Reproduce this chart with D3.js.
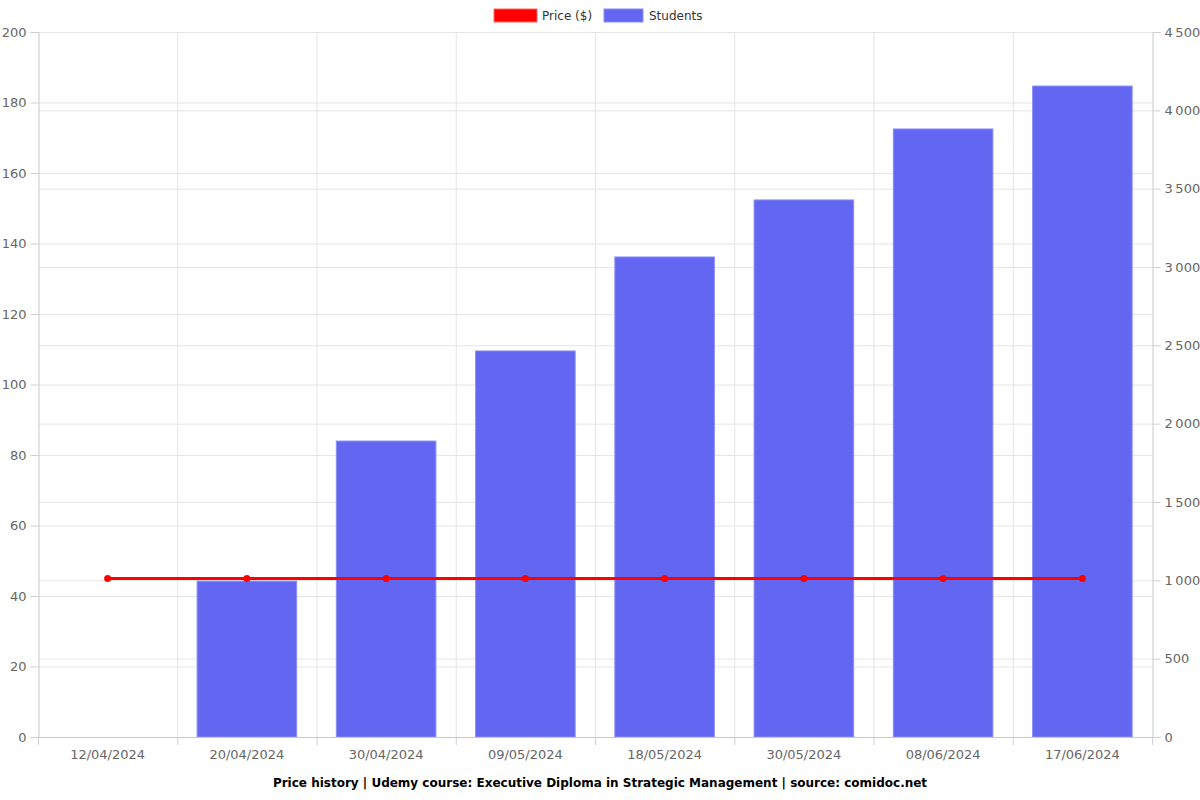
<!DOCTYPE html>
<html>
<head>
<meta charset="utf-8">
<script src="https://cdn.jsdelivr.net/npm/d3@7"></script>
<style>
  body { margin: 0; background: #fff; }
  text { font-family: "DejaVu Sans", sans-serif; }
</style>
</head>
<body>
<svg id="chart" width="1200" height="800"></svg>
<script>
// data
const dates = ["12/04/2024", "20/04/2024", "30/04/2024", "09/05/2024", "18/05/2024", "30/05/2024", "08/06/2024", "17/06/2024"];
const price = [44.99, 44.99, 44.99, 44.99, 44.99, 44.99, 44.99, 44.99];
const students = [0, 995, 1889, 2464, 3064, 3428, 3881, 4155];
const priceTicks = [0, 20, 40, 60, 80, 100, 120, 140, 160, 180, 200];
const studentTicks = [0, 500, 1000, 1500, 2000, 2500, 3000, 3500, 4000, 4500];

const plotL = 38, plotR = 1152, plotT = 32, plotB = 737;
const svg = d3.select("#chart");

const x = d3.scaleBand().domain(dates).range([plotL, plotR]);
const yL = d3.scaleLinear().domain([0, 200]).range([plotB, plotT]);
const yR = d3.scaleLinear().domain([0, 4500]).range([plotB, plotT]);

const fmt = d3.format(",");
const spaceFmt = d => fmt(d).replace(/,/g, "\u2009");

// grid lines
const grid = svg.append("g");
grid.selectAll(".gl").data(priceTicks).enter().append("line")
  .attr("x1", plotL).attr("x2", plotR)
  .attr("y1", d => yL(d) + 0.5).attr("y2", d => yL(d) + 0.5)
  .attr("stroke", "#e5e5e5");
grid.selectAll(".gr").data(studentTicks).enter().append("line")
  .attr("x1", plotL).attr("x2", plotR)
  .attr("y1", d => yR(d) + 0.5).attr("y2", d => yR(d) + 0.5)
  .attr("stroke", "#e5e5e5");
grid.selectAll(".gv").data(dates.slice(1)).enter().append("line")
  .attr("x1", d => x(d) + 0.5).attr("x2", d => x(d) + 0.5)
  .attr("y1", plotT).attr("y2", plotB)
  .attr("stroke", "#e5e5e5");

// bars
const barW = x.bandwidth() * 0.715;
svg.selectAll("rect.bar").data(students).enter().append("rect")
  .attr("class", "bar")
  .attr("x", (d, i) => x(dates[i]) + (x.bandwidth() - barW) / 2)
  .attr("y", d => yR(d))
  .attr("width", barW)
  .attr("height", d => plotB - yR(d))
  .attr("fill", "#6366f1")
  .attr("stroke", d => d > 0 ? "#8b8ef5" : "none")
  .attr("stroke-width", 1);

// axes
const axL = svg.append("g").attr("transform", `translate(${plotL + 0.5},0)`)
  .call(d3.axisLeft(yL).tickValues(priceTicks).tickSize(8).tickPadding(4));
const axR = svg.append("g").attr("transform", `translate(${plotR + 0.5},0)`)
  .call(d3.axisRight(yR).tickValues(studentTicks).tickSize(8).tickPadding(4).tickFormat(spaceFmt));
const axB = svg.append("g").attr("transform", `translate(0,${plotB + 0.5})`)
  .call(d3.axisBottom(x).tickSize(0).tickPadding(12));

// category boundary ticks below the axis
svg.selectAll(".bt").data(dates.concat(["end"])).enter().append("line")
  .attr("x1", (d, i) => (i < dates.length ? x(d) : plotR) + 0.5)
  .attr("x2", (d, i) => (i < dates.length ? x(d) : plotR) + 0.5)
  .attr("y1", plotB).attr("y2", plotB + 8)
  .attr("stroke", "#d0d0d0");

[axL, axR, axB].forEach(a => {
  a.select(".domain").attr("stroke", "#c8c8c8");
  a.selectAll(".tick line").attr("stroke", "#d0d0d0");
  a.selectAll("text").attr("fill", "#666").style("font-size", "13px").style("font-family", "DejaVu Sans, sans-serif");
});
axB.select(".domain").attr("d", `M${plotL},0H${plotR}`);

// price line
const line = d3.line()
  .x((d, i) => x(dates[i]) + x.bandwidth() / 2)
  .y(d => yL(d));
svg.append("path").datum(price)
  .attr("d", line)
  .attr("fill", "none")
  .attr("stroke", "#ff0000")
  .attr("stroke-width", 3);
svg.selectAll("circle.pt").data(price).enter().append("circle")
  .attr("class", "pt")
  .attr("cx", (d, i) => x(dates[i]) + x.bandwidth() / 2)
  .attr("cy", d => yL(d))
  .attr("r", 3.5)
  .attr("fill", "#ff0000");

// legend
const lg = svg.append("g");
lg.append("rect").attr("x", 494).attr("y", 9).attr("width", 43).attr("height", 13)
  .attr("fill", "#ff0000").attr("stroke", "#ff6666");
lg.append("text").attr("x", 542).attr("y", 20).text("Price ($)")
  .attr("fill", "#333").style("font-size", "12px");
lg.append("rect").attr("x", 604).attr("y", 9).attr("width", 39).attr("height", 13)
  .attr("fill", "#6366f1").attr("stroke", "#8b8ef5");
lg.append("text").attr("x", 649).attr("y", 20).text("Students")
  .attr("fill", "#333").style("font-size", "12px");

// title
svg.append("text").attr("x", 600).attr("y", 787).attr("text-anchor", "middle")
  .style("font-size", "12px").style("font-weight", "bold").attr("fill", "#000")
  .text("Price history | Udemy course: Executive Diploma in Strategic Management | source: comidoc.net");
</script>
</body>
</html>
